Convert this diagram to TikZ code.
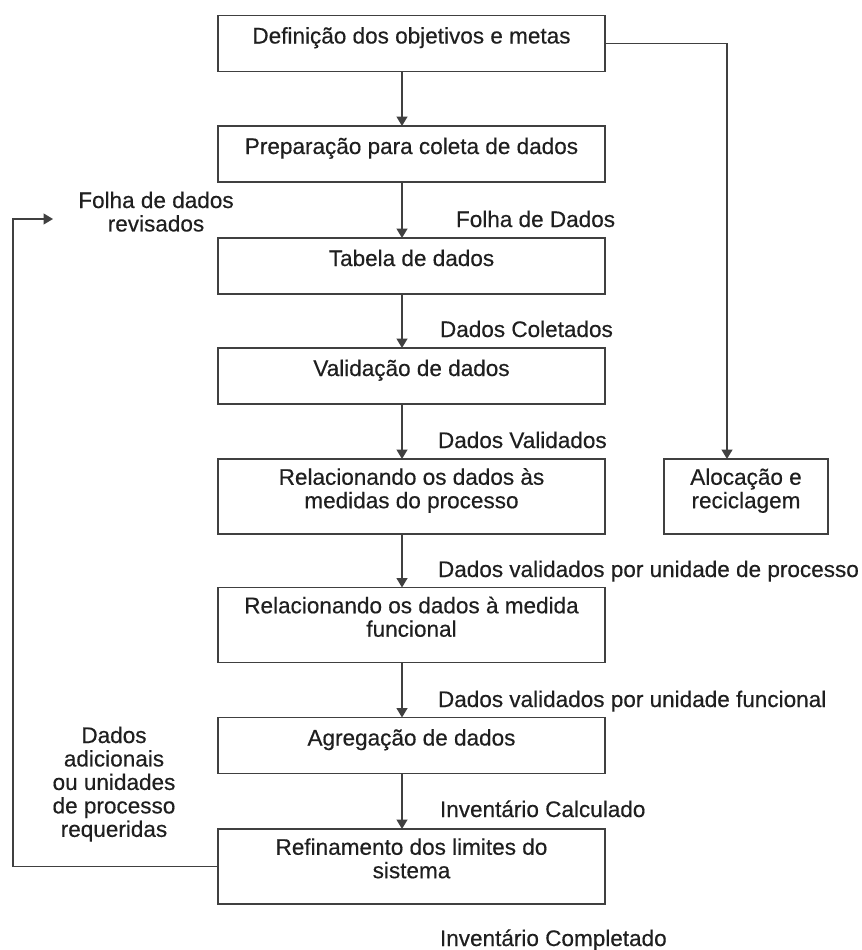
\documentclass[tikz,border=0pt]{standalone}
\usepackage{fontspec}
\setmainfont{Liberation Sans}
\newfontfamily\diagfont{Liberation Sans}[FakeBold=0.4]
\usetikzlibrary{arrows.meta,calc}
% stacked, centred lines whose baseline is the first line
\newcommand{\stacklines}[1]{\begin{tabular}[t]{@{}c@{}}#1\end{tabular}}

\begin{document}
\begin{tikzpicture}[x=0.75pt,y=-0.75pt,
  every node/.style={font=\diagfont\fontsize{16.9pt}{17.6pt}\selectfont, text=black!88,
    inner sep=0pt, outer sep=0pt},
  box/.style={draw=black!75, line width=1.4pt, fill=white,
    minimum width=290.25pt, minimum height=42pt,
    text height=6pt, text depth=6pt},
  tallbox/.style={box, minimum height=56.25pt, text depth=23.6pt},
  lab/.style={anchor=base west},
  side/.style={anchor=base},
  link/.style={draw=black!75, line width=1.4pt},
  arr/.style={link, -{Triangle[length=7pt,width=8pt]}}
]
\fill[white] (0,0) rectangle (861,950);
\useasboundingbox (0,0) rectangle (861,950);

% main chain of steps
\node[box]     (b1) at (411.5,43.5)  {\stacklines{Definição dos objetivos e metas}};
\node[box]     (b2) at (411.5,154)   {\stacklines{Preparação para coleta de dados}};
\node[box]     (b3) at (411.5,266)   {\stacklines{Tabela de dados}};
\node[box]     (b4) at (411.5,376)   {\stacklines{Validação de dados}};
\node[tallbox] (b5) at (411.5,496.5) {\stacklines{Relacionando os dados às\\medidas do processo}};
\node[tallbox] (b6) at (411.5,625)   {\stacklines{Relacionando os dados à medida\\funcional}};
\node[box]     (b7) at (411.5,745.5) {\stacklines{Agregação de dados}};
\node[tallbox] (b8) at (411.5,866.5) {\stacklines{Refinamento dos limites do\\sistema}};

% side step
\node[tallbox, minimum width=123pt] (alo) at (746,496.5) {\stacklines{Alocação e\\reciclagem}};

% flow labels
\node[lab] (l1) at (456,227) {Folha de Dados};
\node[lab] (l2) at (440,337) {Dados Coletados};
\node[lab] (l3) at (438,448) {Dados Validados};
\node[lab] (l4) at (438,577) {Dados validados por unidade de processo};
\node[lab] (l5) at (438,707) {Dados validados por unidade funcional};
\node[lab] (l6) at (440,817) {Inventário Calculado};
\node[lab] (l7) at (440,946) {Inventário Completado};

\node[side] (rev) at (156,208) {\stacklines{Folha de dados\\revisados}};
\node[side] (add) at (114,743) {\stacklines{Dados\\adicionais\\ou unidades\\de processo\\requeridas}};

% vertical arrows between steps
\foreach \a/\b in {b1/b2,b2/b3,b3/b4,b4/b5,b5/b6,b6/b7,b7/b8}
  \draw[arr] ($(\a.south)+(-9.5,0)$) -- ($(\b.north)+(-9.5,0)$);

% branch to allocation
\draw[arr] (b1.east) -| ($(alo.north)+(-19,0)$);

% feedback loop
\coordinate (lp) at (13,219);
\coordinate (rv) at (53,219);
\draw[arr] (b8.west) -| (lp) -- (rv);
\end{tikzpicture}
\end{document}
